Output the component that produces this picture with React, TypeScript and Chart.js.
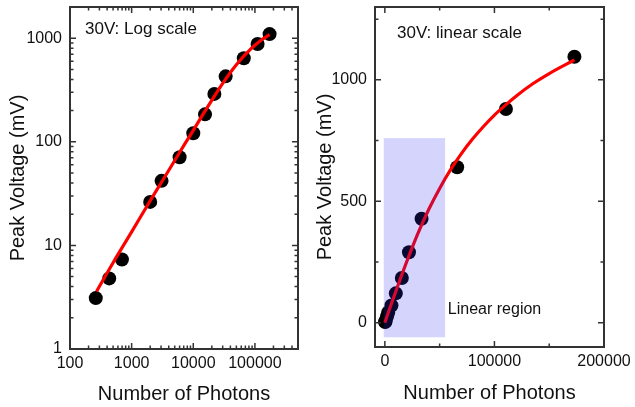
import React, { useEffect, useRef } from 'react';
import { Chart, registerables } from 'chart.js';

Chart.register(...registerables);

// ---- data ----
const photons = [262, 433, 696, 2000, 3060, 6000, 10000, 15500, 22000, 33500, 66000, 110500, 173000];
const peakVoltage = [3.1, 4.8, 7.3, 26.3, 42, 71, 121, 184, 290, 428, 640, 880, 1095];

const fitPhotons = [0, 270, 500, 1000, 2000, 3000, 5000, 7500, 10000, 15000, 20000, 25000, 30000, 40000, 50000, 60000, 70000, 80000, 90000, 100000, 110000, 120000, 135000, 150000, 173000];
const fitVoltage = [0, 3.6, 6.8, 13.5, 27, 40, 66, 98, 129, 192, 252, 310, 366, 466, 553, 630, 697, 756, 808, 855, 896, 934, 984, 1026, 1082];

const logXTicks = [100, 1000, 10000, 100000];
const logYTicks = [1, 10, 100, 1000];
const linXTicks = [0, 100000, 200000];
const linYTicks = [0, 500, 1000];
const linXMinor = [50000, 150000];
const linYMinor = [250, 750, 1250];

const linearRegionX = [-1000, 55000];
const linearRegionY = [-60, 760];

const logAnnotation = '30V: Log scale';
const linAnnotation = '30V: linear scale';
const regionLabel = 'Linear region';
const regionLabelAt = [57500, 55];

const FONT = "'Liberation Sans', Arial, Helvetica, sans-serif";
const TEXT = '#111111';
const FRAME = '#333333';

function logMinor(decades: number[], max: number): number[] {
  const out: number[] = [];
  decades.forEach((d) => {
    for (let k = 2; k <= 9; k++) {
      const v = d * k;
      if (v <= max) out.push(v);
    }
  });
  return out;
}

const points = photons.map((x, i) => ({ x, y: peakVoltage[i] }));
const fitAll = fitPhotons.map((x, i) => ({ x, y: fitVoltage[i] }));
const fitLog = fitAll.filter((p) => p.x > 0);

const framePlugin = {
  id: 'frame',
  afterDatasetsDraw(chart: any, _args: any, opts: any) {
    const { ctx, chartArea } = chart;
    const { left, right, top, bottom } = chartArea;
    const xs = chart.scales.x;
    const ys = chart.scales.y;
    ctx.save();
    if (opts.region) {
      const x0 = xs.getPixelForValue(opts.region.x[0]);
      const x1 = xs.getPixelForValue(opts.region.x[1]);
      const y0 = ys.getPixelForValue(opts.region.y[0]);
      const y1 = ys.getPixelForValue(opts.region.y[1]);
      ctx.fillStyle = 'rgba(40,40,240,0.2)';
      ctx.fillRect(x0, y1, x1 - x0, y0 - y1);
    }
    ctx.strokeStyle = FRAME;
    ctx.lineWidth = 1.5;
    const drawX = (vals: number[], len: number) => {
      vals.forEach((v) => {
        const px = xs.getPixelForValue(v);
        if (px < left - 0.5 || px > right + 0.5) return;
        ctx.beginPath();
        ctx.moveTo(px, bottom);
        ctx.lineTo(px, bottom - len);
        ctx.moveTo(px, top);
        ctx.lineTo(px, top + len);
        ctx.stroke();
      });
    };
    const drawY = (vals: number[], len: number) => {
      vals.forEach((v) => {
        const py = ys.getPixelForValue(v);
        if (py < top - 0.5 || py > bottom + 0.5) return;
        ctx.beginPath();
        ctx.moveTo(left, py);
        ctx.lineTo(left + len, py);
        ctx.moveTo(right, py);
        ctx.lineTo(right - len, py);
        ctx.stroke();
      });
    };
    drawX(opts.xMajor, 6);
    drawX(opts.xMinor, 3.5);
    drawY(opts.yMajor, 6);
    drawY(opts.yMinor, 3.5);
    ctx.lineWidth = 2;
    ctx.strokeRect(left, top, right - left, bottom - top);

    ctx.fillStyle = TEXT;
    ctx.font = `17px ${FONT}`;
    ctx.textAlign = 'left';
    ctx.textBaseline = 'middle';
    ctx.fillText(opts.note, left + opts.noteDx, top + opts.noteDy);
    if (opts.regionText) {
      ctx.font = `16px ${FONT}`;
      ctx.fillText(
        opts.regionText,
        xs.getPixelForValue(opts.regionTextAt[0]),
        ys.getPixelForValue(opts.regionTextAt[1])
      );
    }
    ctx.restore();
  },
};

function makeConfig(isLog: boolean): any {
  const tickFont = { family: FONT, size: 16 };
  const titleFont = { family: FONT, size: 20 };
  const yWidth = 70;
  const xHeight = isLog ? 58 : 60;
  return {
    type: 'scatter',
    data: {
      datasets: [
        {
          data: isLog ? fitLog : fitAll,
          showLine: true,
          borderColor: '#ff0000',
          borderWidth: 3.2,
          pointRadius: 0,
          fill: false,
          cubicInterpolationMode: 'monotone',
          order: 0,
        },
        {
          data: points,
          backgroundColor: '#000000',
          borderColor: '#000000',
          borderWidth: 0,
          pointRadius: 7,
          showLine: false,
          order: 1,
        },
      ],
    },
    plugins: [framePlugin],
    options: {
      responsive: false,
      animation: false,
      events: [],
      layout: {
        padding: isLog ? { left: 0, top: 6, right: 7, bottom: 0 } : { left: 0, top: 4, right: 31, bottom: 0 },
      },
      plugins: {
        legend: { display: false },
        tooltip: { enabled: false },
        frame: {
          xMajor: isLog ? logXTicks : linXTicks,
          xMinor: isLog ? logMinor([100, 1000, 10000, 100000], 500000) : linXMinor,
          yMajor: isLog ? logYTicks : linYTicks,
          yMinor: isLog ? logMinor([1, 10, 100, 1000], 2000) : linYMinor,
          region: isLog ? null : { x: linearRegionX, y: linearRegionY },
          note: isLog ? logAnnotation : linAnnotation,
          noteDx: isLog ? 15 : 22,
          noteDy: isLog ? 22 : 26,
          regionText: isLog ? null : regionLabel,
          regionTextAt: regionLabelAt,
        },
      },
      scales: {
        x: {
          type: isLog ? 'logarithmic' : 'linear',
          min: isLog ? 100 : -9000,
          max: isLog ? 500000 : 200000,
          bounds: 'data',
          afterBuildTicks: (s: any) => {
            s.ticks = (isLog ? logXTicks : linXTicks).map((v) => ({ value: v }));
          },
          afterFit: (s: any) => {
            s.height = xHeight;
            s.paddingLeft = 0;
            s.paddingRight = 0;
          },
          grid: { display: false, drawTicks: false },
          border: { display: false },
          ticks: {
            padding: 5,
            font: tickFont,
            color: TEXT,
            autoSkip: false,
            maxRotation: 0,
            callback: (v: any) => String(v),
          },
          title: {
            display: true,
            text: 'Number of Photons',
            font: titleFont,
            color: TEXT,
            padding: { top: 0, bottom: isLog ? 1 : 2 },
          },
        },
        y: {
          type: isLog ? 'logarithmic' : 'linear',
          min: isLog ? 1 : -100,
          max: isLog ? 2000 : 1300,
          bounds: 'data',
          afterBuildTicks: (s: any) => {
            s.ticks = (isLog ? logYTicks : linYTicks).map((v) => ({ value: v }));
          },
          afterFit: (s: any) => {
            s.width = yWidth;
            s.paddingTop = 0;
            s.paddingBottom = 0;
          },
          grid: { display: false, drawTicks: false },
          border: { display: false },
          ticks: {
            padding: 8,
            font: tickFont,
            color: TEXT,
            autoSkip: false,
            callback: (v: any) => String(v),
          },
          title: {
            display: true,
            text: 'Peak Voltage (mV)',
            font: titleFont,
            color: TEXT,
            padding: { top: isLog ? 6 : 8, bottom: 0 },
          },
        },
      },
    },
  };
}

function ChartBox({ isLog, left, width }: { isLog: boolean; left: number; width: number }) {
  const ref = useRef<HTMLCanvasElement>(null);
  useEffect(() => {
    const chart = new Chart(ref.current as HTMLCanvasElement, makeConfig(isLog));
    return () => chart.destroy();
  }, [isLog]);
  return (
    <canvas
      ref={ref}
      width={width}
      height={407}
      style={{ position: 'absolute', left, top: 0, width, height: 407 }}
    />
  );
}

export default function App() {
  return (
    <div
      style={{
        position: 'fixed',
        left: 0,
        top: 0,
        width: 635,
        height: 407,
        background: '#ffffff',
        overflow: 'hidden',
      }}
    >
      <ChartBox isLog={true} left={0} width={305} />
      <ChartBox isLog={false} left={305} width={330} />
    </div>
  );
}
